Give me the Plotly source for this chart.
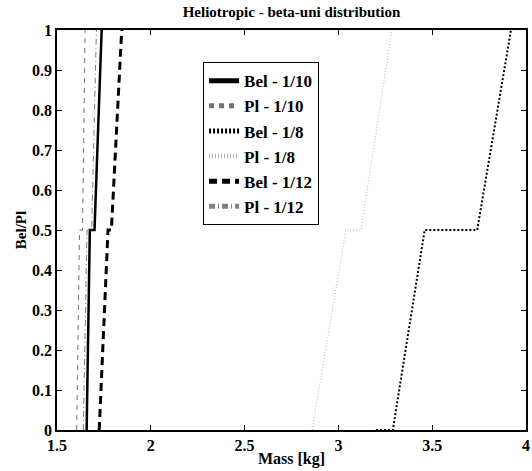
import plotly.graph_objects as go

# Data (Mass [kg], Bel/Pl)
bel_10_x = [1.658, 1.675, 1.700, 1.738]
bel_10_y = [0.0, 0.5, 0.5, 1.0]
pl_10_x = [1.605, 1.620, 1.636, 1.650]
pl_10_y = [0.0, 0.5, 0.5, 1.0]
bel_8_x = [3.20, 3.29, 3.46, 3.74, 3.92]
bel_8_y = [0.0, 0.0, 0.5, 0.5, 1.0]
pl_8_x = [2.86, 3.04, 3.12, 3.285]
pl_8_y = [0.0, 0.5, 0.5, 1.0]
bel_12_x = [1.725, 1.772, 1.790, 1.845]
bel_12_y = [0.0, 0.5, 0.5, 1.0]
pl_12_x = [1.640, 1.660, 1.685, 1.710]
pl_12_y = [0.0, 0.5, 0.5, 1.0]

x_ticks = [1.5, 2, 2.5, 3, 3.5, 4]
x_tick_labels = ["1.5", "2", "2.5", "3", "3.5", "4"]
y_ticks = [0, 0.1, 0.2, 0.3, 0.4, 0.5, 0.6, 0.7, 0.8, 0.9, 1]
y_tick_labels = ["0", "0.1", "0.2", "0.3", "0.4", "0.5", "0.6", "0.7", "0.8", "0.9", "1"]

series = [
    ("Bel - 1/10", bel_10_x, bel_10_y, dict(color="black", width=2.5, dash="solid")),
    ("Pl - 1/10", pl_10_x, pl_10_y, dict(color="#707070", width=1, dash="5px,5px")),
    ("Bel - 1/8", bel_8_x, bel_8_y, dict(color="black", width=2, dash="2px,2px")),
    ("Pl - 1/8", pl_8_x, pl_8_y, dict(color="#b0b0b0", width=1, dash="1px,2px")),
    ("Bel - 1/12", bel_12_x, bel_12_y, dict(color="black", width=3, dash="8px,5px")),
    ("Pl - 1/12", pl_12_x, pl_12_y, dict(color="#808080", width=1, dash="6px,3px,1px,3px")),
]

fig = go.Figure()
for name, xs, ys, line in series:
    fig.add_trace(go.Scatter(x=xs, y=ys, mode="lines", name="<b>%s</b>" % name, line=line))

font_family = "Liberation Serif"
fig.update_layout(
    width=532, height=471,
    margin=dict(l=57, r=6, t=30, b=41, autoexpand=False),
    paper_bgcolor="white", plot_bgcolor="white",
    font=dict(family=font_family, color="black", size=16),
    title=dict(text="<b>Heliotropic - beta-uni distribution</b>", x=0.5, xref="paper",
               y=1 - 12 / 471, yanchor="middle", font=dict(size=15, family=font_family)),
    showlegend=True,
    legend=dict(x=0.311, y=0.92, xanchor="left", yanchor="top",
                bordercolor="black", borderwidth=1.2, bgcolor="white",
                font=dict(size=17, family=font_family), tracegroupgap=0,
                itemsizing="constant"),
    xaxis=dict(range=[1.5, 4], tickvals=x_ticks,
               ticktext=["<b>%s</b>" % t for t in x_tick_labels],
               ticks="inside", ticklen=5, tickcolor="black", mirror="ticks",
               showline=True, linecolor="black", linewidth=1.5, showgrid=False, zeroline=False,
               automargin=False, ticklabeloverflow="allow", tickfont=dict(size=16),
               title=dict(text="<b>Mass [kg]</b>", standoff=0, font=dict(size=16))),
    yaxis=dict(range=[0, 1], tickvals=y_ticks,
               ticktext=["<b>%s</b>" % t for t in y_tick_labels],
               ticks="inside", ticklen=5, tickcolor="black", mirror="ticks",
               showline=True, linecolor="black", linewidth=1.5, showgrid=False, zeroline=False,
               automargin=False, ticklabeloverflow="allow", tickfont=dict(size=16),
               title=dict(text="<b>Bel/Pl</b>", standoff=2, font=dict(size=15))),
)

fig.write_html(
    "out.html",
    config={"displayModeBar": False},
    post_script="document.body.style.margin='0';document.body.style.overflow='hidden';",
)
